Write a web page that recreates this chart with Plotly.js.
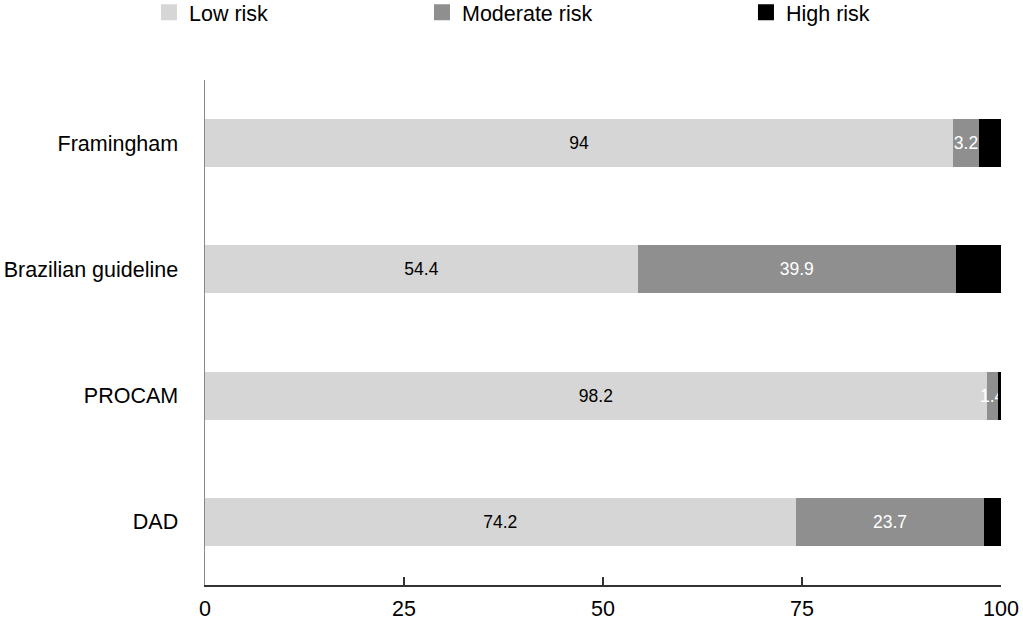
<!DOCTYPE html>
<html>
<head>
<meta charset="utf-8">
<script src="https://cdn.plot.ly/plotly-3.0.1.min.js"></script>
<style>html,body{margin:0;padding:0;background:#fff;}#chart{width:1023px;height:621px;}</style>
</head>
<body>
<div id="chart"></div>
<script>
const categories = ["Framingham", "Brazilian guideline", "PROCAM", "DAD"];
const lowRisk = [94, 54.4, 98.2, 74.2];
const moderateRisk = [3.2, 39.9, 1.4, 23.7];
const highRisk = [2.8, 5.7, 0.4, 2.1];
const seriesNames = ["Low risk", "Moderate risk", "High risk"];
const xTicks = [0, 25, 50, 75, 100];

const colors = ["#d6d6d6", "#8f8f8f", "#000000"];
const font = "Liberation Sans, Arial, sans-serif";

const traces = [
  {type: "bar", orientation: "h", y: categories, x: lowRisk, name: seriesNames[0],
   marker: {color: colors[0]}, texttemplate: "%{x}", textposition: "inside", textangle: 0,
   insidetextanchor: "middle", textfont: {color: "#000", size: 17.5, family: font},
   showlegend: false, hoverinfo: "x+y"},
  {type: "bar", orientation: "h", y: categories, x: moderateRisk, name: seriesNames[1],
   marker: {color: colors[1]}, texttemplate: "%{x}", textposition: "inside", textangle: 0,
   insidetextanchor: "middle", textfont: {color: "#fff", size: 17.5, family: font},
   showlegend: false, hoverinfo: "x+y"},
  {type: "bar", orientation: "h", y: categories, x: highRisk, name: seriesNames[2],
   marker: {color: colors[2]}, textposition: "none",
   showlegend: false, hoverinfo: "x+y"},
  {type: "scatter", mode: "markers", x: [null], y: [null], name: seriesNames[0],
   marker: {symbol: "square", size: 18, color: colors[0]}, legend: "legend"},
  {type: "scatter", mode: "markers", x: [null], y: [null], name: seriesNames[1],
   marker: {symbol: "square", size: 18, color: colors[1]}, legend: "legend2"},
  {type: "scatter", mode: "markers", x: [null], y: [null], name: seriesNames[2],
   marker: {symbol: "square", size: 18, color: colors[2]}, legend: "legend3"}
];

const legendBase = {orientation: "h", yanchor: "top", y: 1.014, xanchor: "left",
  font: {family: font, size: 21.5, color: "#000"}, bgcolor: "rgba(0,0,0,0)", borderwidth: 0};

const layout = {
  width: 1023, height: 621,
  margin: {l: 205, r: 22, t: 0, b: 36, pad: 0, autoexpand: false},
  paper_bgcolor: "#fff", plot_bgcolor: "#fff",
  font: {family: font, size: 21.5, color: "#000"},
  barmode: "stack",
  bargap: 0.62,
  uniformtext: {mode: "show", minsize: 17.5},
  xaxis: {range: [0, 100], tickvals: xTicks, ticktext: xTicks.map(String),
    showgrid: false, zeroline: false, showline: true, linecolor: "#333", linewidth: 1.5,
    ticks: "inside", ticklen: 8, tickwidth: 1.2, tickcolor: "#333",
    tickfont: {family: font, size: 21.5, color: "#000"}, ticklabelstandoff: 4, fixedrange: true},
  yaxis: {type: "category", categoryorder: "array", categoryarray: categories,
    domain: [0, 0.86325],
    autorange: "reversed", showgrid: false, zeroline: false, showline: true,
    linecolor: "#888", linewidth: 1.5, ticks: "",
    tickfont: {family: font, size: 21.5, color: "#000"}, ticklabelstandoff: 21, fixedrange: true},
  legend: Object.assign({}, legendBase, {x: -0.0704}),
  legend2: Object.assign({}, legendBase, {x: 0.2726}),
  legend3: Object.assign({}, legendBase, {x: 0.6796})
};

Plotly.newPlot("chart", traces, layout, {displayModeBar: false, staticPlot: true});
</script>
</body>
</html>
